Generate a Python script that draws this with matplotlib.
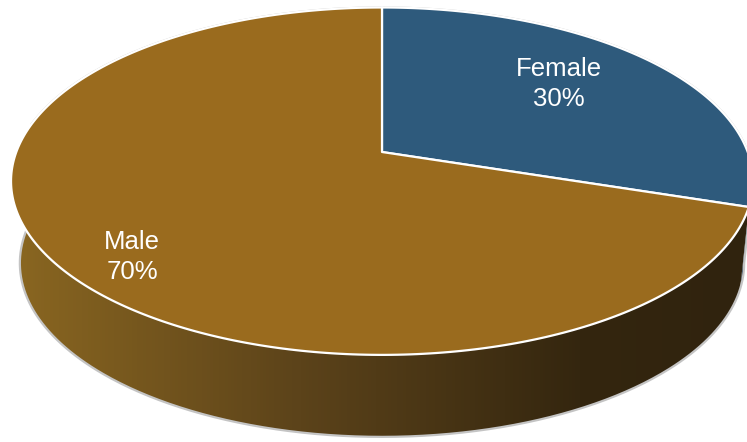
import numpy as np
import matplotlib.pyplot as plt
from matplotlib.patches import Polygon
from matplotlib.colors import LinearSegmentedColormap

# 性别构成数据
labels = ["Female", "Male"]
shares = [30, 70]
top_colors = ["#2e5a7c", "#9a6b1e"]
side_colors = ["#1e3a52", None]

# 透视椭圆参数 (像素坐标)
cx, cy = 382.0, 152.0
k = 0.168
s_top, s_bot = 365.7, 357.0
t = 168.8
depth = 82.0


def proj(theta, s, dz=0.0):
    X = np.cos(theta)
    Y = np.sin(theta)
    w = 1 + k * Y
    return cx + s * X / w, cy - t * Y / w + dz


fig = plt.figure(figsize=(7.47, 4.42), dpi=100)
ax = fig.add_axes([0, 0, 1, 1])
ax.set_xlim(0, 747)
ax.set_ylim(442, 0)
ax.axis("off")

# 扇区角度: 从12点钟方向顺时针
start = np.pi / 2
bounds = [start]
for v in shares:
    bounds.append(bounds[-1] - 2 * np.pi * v / sum(shares))

# 侧面可见范围
vis_a = -np.arcsin(k)
vis_b = -np.pi - np.arcsin(k)

side_cmap = LinearSegmentedColormap.from_list(
    "side", [(0, "#8c6821"), (0.4, "#5c431a"), (0.78, "#34260f"), (1, "#30230e")]
)
grad = np.tile(np.linspace(0, 1, 747), (442, 1))

for i in range(len(shares)):
    a0, a1 = bounds[i], bounds[i + 1]
    lo = max(a1, vis_b)
    hi = min(a0, vis_a)
    if lo >= hi:
        continue
    th = np.linspace(hi, lo, 200)
    ux, uy = proj(th, s_top)
    bx, by = proj(th[::-1], s_bot, dz=depth)
    pts = np.column_stack([np.concatenate([ux, bx]), np.concatenate([uy, by])])
    if side_colors[i] is None:
        poly = Polygon(pts, closed=True, facecolor="none", edgecolor="none")
        ax.add_patch(poly)
        im = ax.imshow(grad, cmap=side_cmap, extent=[0, 747, 442, 0], aspect="auto", zorder=1)
        im.set_clip_path(poly)
    else:
        ax.add_patch(Polygon(pts, closed=True, facecolor=side_colors[i], edgecolor="none", zorder=1))

# 外轮廓
th = np.linspace(vis_a, vis_b + 2 * np.pi, 400)
ox, oy = proj(th, s_top)
th2 = np.linspace(vis_b, vis_a, 400)
bx, by = proj(th2, s_bot, dz=depth)
ax.plot(
    np.concatenate([ox, bx, [ox[0]]]),
    np.concatenate([oy, by, [oy[0]]]),
    color="#c4c4c4", lw=1.6, zorder=2, solid_joinstyle="round",
)

# 顶面扇区
for i in range(len(shares)):
    th = np.linspace(bounds[i], bounds[i + 1], 300)
    ux, uy = proj(th, s_top)
    pts = np.column_stack([np.concatenate([[cx], ux]), np.concatenate([[cy], uy])])
    ax.add_patch(Polygon(pts, closed=True, facecolor=top_colors[i], edgecolor="white",
                         lw=1.6, joinstyle="round", zorder=3))

# 数据标签
label_pos = [(559, 84), (132, 257)]
for i in range(len(shares)):
    ax.text(label_pos[i][0], label_pos[i][1], f"{labels[i]}\n{shares[i]}%",
            ha="center", va="center", color="white", fontsize=18.5,
            family="Liberation Sans", linespacing=1.3, zorder=4)

fig.savefig("out.png", dpi=100)
